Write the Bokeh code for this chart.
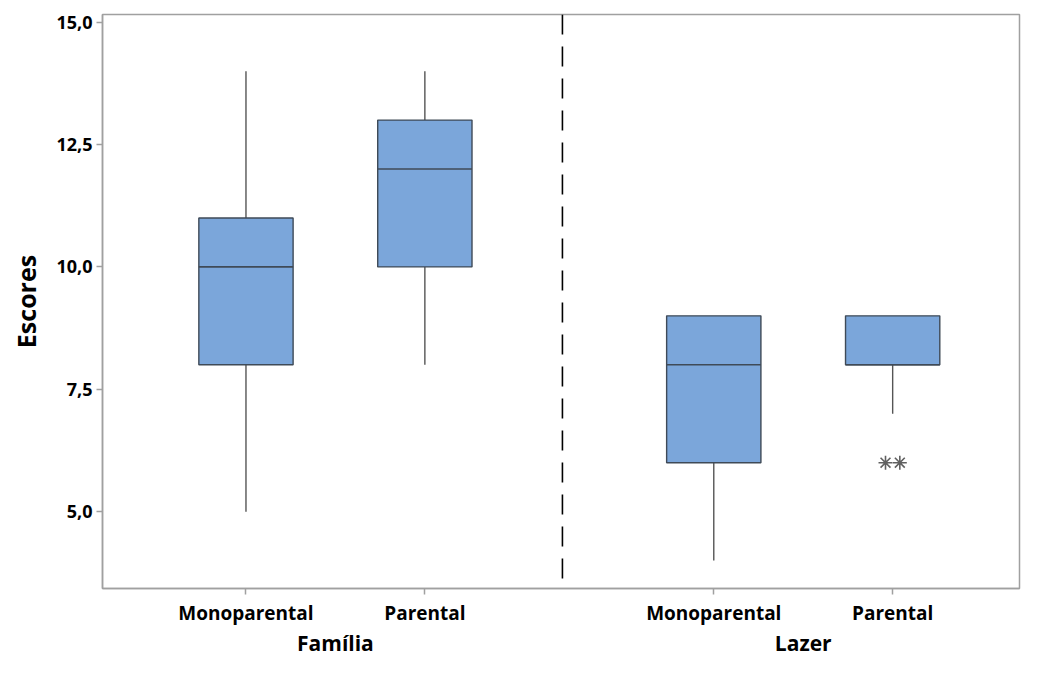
from bokeh.plotting import figure
from bokeh.models import Range1d, FixedTicker, LinearAxis, Span, ColumnDataSource
from bokeh.embed import file_html
from bokeh.resources import INLINE

# ---- data ----
groups = ["Família", "Família", "Lazer", "Lazer"]
categories = ["Monoparental", "Parental", "Monoparental", "Parental"]
lower = [5, 8, 4, 7]
q1 = [8, 10, 6, 8]
median = [10, 12, 8, 8]
q3 = [11, 13, 9, 9]
upper = [14, 14, 9, 9]
outlier_values = [6, 6]
outlier_box = [3, 3]  # index of box that owns each outlier
y_ticks = [5.0, 7.5, 10.0, 12.5, 15.0]
y_tick_labels = ["5,0", "7,5", "10,0", "12,5", "15,0"]

# ---- layout positions ----
pos = [1.0, 2.0, 3.615, 4.615]
sep_x = 2.769
group_pos = [1.5, 4.115]
group_names = ["Família", "Lazer"]
box_w = 0.527
jitter = [-0.04, 0.04]

FONT = "Open Sans"
GRAY = "#a0a0a0"

p = figure(width=1023, height=659, output_backend="svg", toolbar_location=None,
           x_range=Range1d(0.198, 5.324), y_range=Range1d(3.43, 15.157),
           min_border_left=102, min_border_top=14, min_border_right=4, min_border_bottom=40)

p.xgrid.visible = False
p.ygrid.visible = False
p.outline_line_color = GRAY
p.outline_line_width = 1.5
p.background_fill_color = "white"
p.border_fill_color = "white"

src = ColumnDataSource(dict(x=pos, lower=lower, q1=q1, median=median, q3=q3, upper=upper))

# whiskers
p.segment(x0="x", y0="q3", x1="x", y1="upper", source=src, line_color="#555555", line_width=1.4)
p.segment(x0="x", y0="lower", x1="x", y1="q1", source=src, line_color="#555555", line_width=1.4)
# boxes
p.vbar(x="x", width=box_w, bottom="q1", top="q3", source=src,
       fill_color="#7BA6DA", line_color="#3f4a57", line_width=1.4)
# medians
xs0 = [x - box_w / 2 for x in pos]
xs1 = [x + box_w / 2 for x in pos]
p.segment(x0=xs0, y0=median, x1=xs1, y1=median, line_color="#3f4a57", line_width=1.6)

# outliers
ox = [pos[b] + j for b, j in zip(outlier_box, jitter)]
p.scatter(ox, outlier_values, marker="asterisk", size=14, line_color="#606060", line_width=1.6)

# separator
p.add_layout(Span(location=sep_x, dimension="height", line_color="black",
                  line_width=1.6, line_dash="20 12"))

# y axis
p.yaxis.ticker = FixedTicker(ticks=y_ticks)
p.yaxis.major_label_overrides = {t: l for t, l in zip(y_ticks, y_tick_labels)}
p.yaxis.minor_tick_line_color = None
p.yaxis.axis_line_color = GRAY
p.yaxis.axis_line_width = 1.5
p.yaxis.major_tick_line_color = GRAY
p.yaxis.major_tick_line_width = 1.5
p.yaxis.major_tick_in = 0
p.yaxis.major_tick_out = 6
p.yaxis.major_label_standoff = 4
p.yaxis.major_label_text_font = FONT
p.yaxis.major_label_text_font_style = "bold"
p.yaxis.major_label_text_font_size = "18px"
p.yaxis.major_label_text_color = "black"
p.yaxis.axis_label = "Escores"
p.yaxis.axis_label_text_font = FONT
p.yaxis.axis_label_text_font_style = "bold"
p.yaxis.axis_label_text_font_size = "25px"
p.yaxis.axis_label_text_color = "black"
p.yaxis.axis_label_standoff = 10

# x axis (categories)
p.xaxis.ticker = FixedTicker(ticks=pos)
p.xaxis.major_label_overrides = {x: c for x, c in zip(pos, categories)}
p.xaxis.minor_tick_line_color = None
p.xaxis.axis_line_color = GRAY
p.xaxis.axis_line_width = 1.5
p.xaxis.major_tick_line_color = GRAY
p.xaxis.major_tick_line_width = 1.5
p.xaxis.major_tick_in = 0
p.xaxis.major_tick_out = 6
p.xaxis.major_label_standoff = 5
p.xaxis.major_label_text_font = FONT
p.xaxis.major_label_text_font_style = "bold"
p.xaxis.major_label_text_font_size = "19px"
p.xaxis.major_label_text_color = "black"

# group axis
gax = LinearAxis(ticker=FixedTicker(ticks=group_pos),
                 major_label_overrides={x: g for x, g in zip(group_pos, group_names)})
gax.axis_line_color = None
gax.major_tick_line_color = None
gax.minor_tick_line_color = None
gax.major_tick_in = 0
gax.major_tick_out = 0
gax.major_label_standoff = 0
gax.major_label_text_font = FONT
gax.major_label_text_font_style = "bold"
gax.major_label_text_font_size = "21px"
gax.major_label_text_color = "black"
p.add_layout(gax, "below")

open("out.html", "w").write(file_html(p, INLINE))
